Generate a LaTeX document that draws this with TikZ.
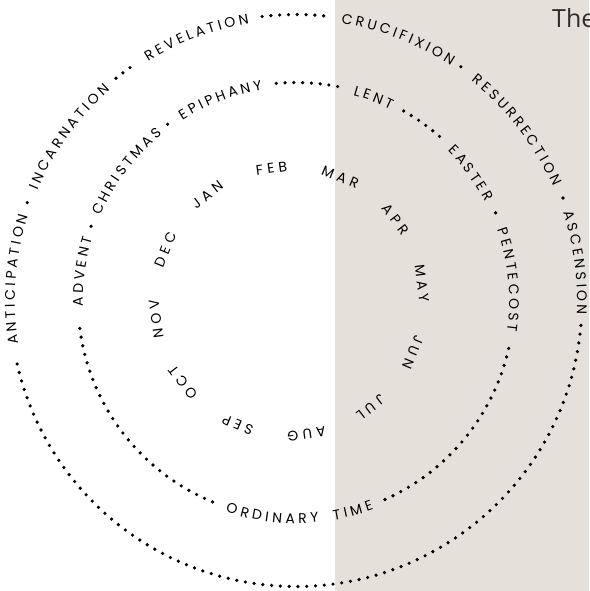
\documentclass[tikz,border=0pt]{standalone}
\usepackage{fontspec}
\setmainfont{Poppins}
\newfontfamily\ringfont{Poppins}[LetterSpace=30]
\newfontfamily\titlefont{Open Sans}
\usepackage{tikz}
\usetikzlibrary{decorations.text}
\definecolor{paperbeige}{RGB}{229, 225, 218}
\definecolor{inkgray}{RGB}{45, 45, 45}
\newcommand{\ringsize}{\ringfont\fontsize{14}{16}\selectfont}
\tikzset{
  dotring/.style={line width=3.6pt, line cap=round, dash pattern=on 0pt off 8.8pt, black},
  bullet/.style={fill=black},
  month/.style={font=\ringsize, inner sep=0pt}
}
% texto sobre un arco: radio, angulo inicial, angulo final, texto
\newcommand{\ringword}[4]{%
  \path[decorate, decoration={text along path, text align=center, raise=-4.9pt,
    text={|\ringsize\kern3.4pt|#4}}] (#2:#1) arc[start angle=#2, end angle=#3, radius=#1];
}

\begin{document}
\begin{tikzpicture}[x=1pt, y=1pt]

\useasboundingbox (-296, -290.5) rectangle (293, 300.5);
\fill[paperbeige] (39, -290.5) rectangle (293, 300.5);
\node[anchor=base west, inner sep=0pt, text=inkgray, font=\titlefont\fontsize{25}{27}\selectfont] (title) at (256, 273) {The};

% Anillo exterior
\ringword{286}{206}{146}{ANTICIPATION}
\fill[bullet] (160:286) circle[radius=1.8];
\ringword{286}{174.5}{114.5}{INCARNATION}
\draw[dotring] (129:286) arc[start angle=129, end angle=125.3, radius=286];
\ringword{286}{141}{81}{REVELATION}
\draw[dotring] (96.8:286) arc[start angle=96.8, end angle=83.5, radius=286];
\ringword{286}{99}{39}{CRUCIFIXION}
\fill[bullet] (54.8:286) circle[radius=1.8];
\ringword{286}{68}{8}{RESURRECTION}
\fill[bullet] (21:286) circle[radius=1.8];
\ringword{286}{38}{-22}{ASCENSION}
\draw[dotring] (-5:286) arc[start angle=-5, end angle=-168.3, radius=286];

% Anillo medio
\ringword{218}{202.7}{142.7}{ADVENT}
\fill[bullet] (160.1:218) circle[radius=1.8];
\ringword{218}{173.2}{113.2}{CHRISTMAS}
\fill[bullet] (126.1:218) circle[radius=1.8];
\ringword{218}{141.1}{81.1}{EPIPHANY}
\draw[dotring] (95.2:218) arc[start angle=95.2, end angle=78.8, radius=218];
\ringword{218}{99.5}{39.5}{LENT}
\draw[dotring] (60.4:218) arc[start angle=60.4, end angle=48.5, radius=218];
\ringword{218}{66.5}{6.5}{EASTER}
\fill[bullet] (23.7:218) circle[radius=1.8];
\ringword{218}{36}{-24}{PENTECOST}
\draw[dotring] (-12.7:218) arc[start angle=-12.7, end angle=-67.4, radius=218];
\ringword{218}{-129.5}{-49.5}{ORDINARY TIME}
\draw[dotring] (-112.5:218) arc[start angle=-112.5, end angle=-174, radius=218];

% Meses
\coordinate (mc) at (-7, -0.5);
\node[month, rotate=37.5] (jan) at ([shift={(127.5:134)}]mc) {JAN};
\node[month, rotate=7.5] (feb) at ([shift={(97.5:134)}]mc) {FEB};
\node[month, rotate=-22.5] (mar) at ([shift={(67.5:134)}]mc) {MAR};
\node[month, rotate=-52.5] (apr) at ([shift={(37.5:134)}]mc) {APR};
\node[month, rotate=-82.5] (may) at ([shift={(7.5:134)}]mc) {MAY};
\node[month, rotate=-112.5] (jun) at ([shift={(-22.5:134)}]mc) {JUN};
\node[month, rotate=-142.5] (jul) at ([shift={(-52.5:134)}]mc) {JUL};
\node[month, rotate=-172.5] (aug) at ([shift={(-82.5:134)}]mc) {AUG};
\node[month, rotate=157.5] (sep) at ([shift={(-112.5:134)}]mc) {SEP};
\node[month, rotate=127.5] (oct) at ([shift={(-142.5:134)}]mc) {OCT};
\node[month, rotate=97.5] (nov) at ([shift={(187.5:134)}]mc) {NOV};
\node[month, rotate=67.5] (dec) at ([shift={(157.5:134)}]mc) {DEC};

\end{tikzpicture}
\end{document}
